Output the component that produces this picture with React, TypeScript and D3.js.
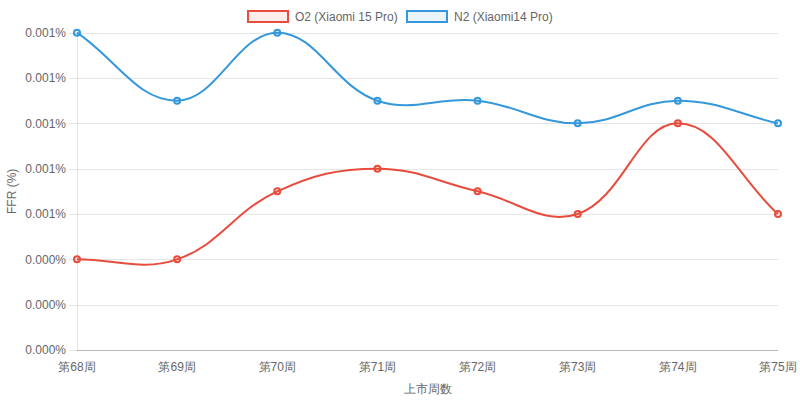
import { useRef, useEffect } from 'react';
import * as d3 from 'd3';

// Weekly FFR values (fraction of percent)
const weeks = ["第68周", "第69周", "第70周", "第71周", "第72周", "第73周", "第74周", "第75周"];
const o2Values = [0.0004, 0.0004, 0.0007, 0.0008, 0.0007, 0.0006, 0.001, 0.0006];
const n2Values = [0.0014, 0.0011, 0.0014, 0.0011, 0.0011, 0.001, 0.0011, 0.001];
const yTicks = [0, 0.0002, 0.0004, 0.0006, 0.0008, 0.001, 0.0012, 0.0014];

const seriesList = [
  { name: "O2 (Xiaomi 15 Pro)", values: o2Values, color: "#e74c3c", fill: "rgba(231,76,60,0.1)" },
  { name: "N2 (Xiaomi14 Pro)", values: n2Values, color: "#3498db", fill: "rgba(52,152,219,0.1)" }
];

type Pt = [number, number];

// Chart.js style bezier (tension 0.4) between points
function splinePath(pts: Pt[], tension: number, top: number, bottom: number) {
  const cps = pts.map((cur, i) => {
    const prev = pts[i - 1] || cur;
    const next = pts[i + 1] || cur;
    const d01 = Math.hypot(cur[0] - prev[0], cur[1] - prev[1]);
    const d12 = Math.hypot(next[0] - cur[0], next[1] - cur[1]);
    let s01 = d01 / (d01 + d12);
    let s12 = d12 / (d01 + d12);
    s01 = isNaN(s01) ? 0 : s01;
    s12 = isNaN(s12) ? 0 : s12;
    const fa = tension * s01;
    const fb = tension * s12;
    const clamp = (v: number) => Math.max(top, Math.min(bottom, v));
    return {
      prev: [cur[0] - fa * (next[0] - prev[0]), clamp(cur[1] - fa * (next[1] - prev[1]))],
      next: [cur[0] + fb * (next[0] - prev[0]), clamp(cur[1] + fb * (next[1] - prev[1]))]
    };
  });
  const p = d3.path();
  p.moveTo(pts[0][0], pts[0][1]);
  for (let i = 1; i < pts.length; i++) {
    const a = cps[i - 1].next;
    const b = cps[i].prev;
    p.bezierCurveTo(a[0], a[1], b[0], b[1], pts[i][0], pts[i][1]);
  }
  return p.toString();
}

export default function App() {
  const ref = useRef<SVGSVGElement>(null);

  useEffect(() => {
    if (!ref.current) return;
    const width = 800;
    const height = 401;
    const margin = { top: 32.7, right: 22, bottom: 51, left: 77 };
    const font = "'Liberation Sans', Arial, sans-serif";

    const svg = d3.select(ref.current)
      .attr('width', width)
      .attr('height', height);
    svg.selectAll("*").remove();

    const x = d3.scalePoint()
      .domain(weeks)
      .range([margin.left, width - margin.right]);

    const y = d3.scaleLinear()
      .domain([0, 0.0014])
      .range([height - margin.bottom, margin.top]);

    // Grid lines
    svg.append("g")
      .selectAll("line")
      .data(yTicks)
      .join("line")
      .attr("x1", margin.left - 8)
      .attr("x2", width - margin.right)
      .attr("y1", d => Math.round(y(d)) + 0.5)
      .attr("y2", d => Math.round(y(d)) + 0.5)
      .attr("stroke", "rgba(0,0,0,0.1)");

    // Left axis line
    svg.append("line")
      .attr("x1", margin.left + 0.5)
      .attr("x2", margin.left + 0.5)
      .attr("y1", margin.top)
      .attr("y2", height - margin.bottom)
      .attr("stroke", "rgba(0,0,0,0.1)");

    // Bottom axis line
    svg.append("line")
      .attr("x1", margin.left)
      .attr("x2", width - margin.right)
      .attr("y1", Math.round(y(0)) + 0.5)
      .attr("y2", Math.round(y(0)) + 0.5)
      .attr("stroke", "rgba(0,0,0,0.2)");

    // Y tick labels
    svg.append("g")
      .selectAll("text")
      .data(yTicks)
      .join("text")
      .attr("x", margin.left - 11)
      .attr("y", d => y(d))
      .attr("dy", "0.35em")
      .attr("text-anchor", "end")
      .attr("font-family", font)
      .attr("font-size", 12)
      .attr("fill", "#666")
      .text(d => d.toFixed(3) + "%");

    // X tick labels
    svg.append("g")
      .selectAll("text")
      .data(weeks)
      .join("text")
      .attr("x", d => x(d)!)
      .attr("y", height - margin.bottom + 17)
      .attr("dy", "0.35em")
      .attr("text-anchor", "middle")
      .attr("font-family", font)
      .attr("font-size", 12)
      .attr("fill", "#666")
      .text(d => d);

    // Axis titles
    svg.append("text")
      .attr("x", (margin.left + width - margin.right) / 2)
      .attr("y", 389)
      .attr("dy", "0.35em")
      .attr("text-anchor", "middle")
      .attr("font-family", font)
      .attr("font-size", 12)
      .attr("fill", "#666")
      .text("上市周数");

    svg.append("text")
      .attr("transform", `translate(12,${(margin.top + height - margin.bottom) / 2}) rotate(-90)`)
      .attr("dy", "0.35em")
      .attr("text-anchor", "middle")
      .attr("font-family", font)
      .attr("font-size", 12)
      .attr("fill", "#666")
      .text("FFR (%)");

    // Lines and points
    seriesList.forEach(s => {
      const pts: Pt[] = s.values.map((v, i) => [x(weeks[i])!, y(v)]);
      svg.append("path")
        .attr("d", splinePath(pts, 0.4, margin.top, height - margin.bottom))
        .attr("fill", "none")
        .attr("stroke", s.color)
        .attr("stroke-width", 2);

      svg.append("g")
        .selectAll("circle")
        .data(pts)
        .join("circle")
        .attr("cx", d => d[0])
        .attr("cy", d => d[1])
        .attr("r", 3)
        .attr("fill", s.fill)
        .attr("stroke", s.color)
        .attr("stroke-width", 2);
    });

    // Legend
    const legendX = [248, 407];
    const legend = svg.append("g");
    seriesList.forEach((s, i) => {
      legend.append("rect")
        .attr("x", legendX[i])
        .attr("y", 11)
        .attr("width", 40)
        .attr("height", 11)
        .attr("fill", s.fill)
        .attr("stroke", s.color)
        .attr("stroke-width", 2);
      legend.append("text")
        .attr("x", legendX[i] + 47)
        .attr("y", 16.5)
        .attr("dy", "0.35em")
        .attr("font-family", font)
        .attr("font-size", 12)
        .attr("fill", "#666")
        .text(s.name);
    });
  }, []);

  return (
    <div style={{ position: "absolute", left: 0, top: 0 }}>
      <svg ref={ref}></svg>
    </div>
  );
}
